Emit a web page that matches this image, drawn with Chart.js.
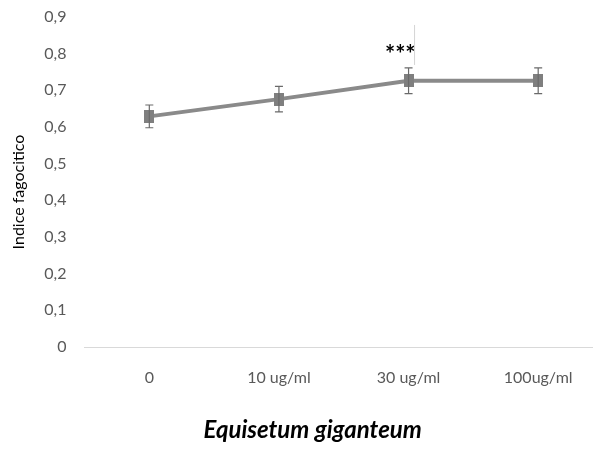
<!DOCTYPE html>
<html><head><meta charset="utf-8">
<script src="https://cdn.jsdelivr.net/npm/chart.js@4/dist/chart.umd.min.js"></script>
<style>html,body{margin:0;padding:0;background:#fff;overflow:hidden}#w{width:604px;height:449px;position:relative}canvas{display:block}</style>
</head><body>
<div id="w"><canvas id="c" width="604" height="449" style="width:604px;height:449px"></canvas></div>
<script>
const categories = ['0', '10 ug/ml', '30 ug/ml', '100ug/ml'];
const values = [0.629, 0.676, 0.726, 0.726];
const errors = [0.031, 0.035, 0.035, 0.035];
const yTickLabels = ['0', '0,1', '0,2', '0,3', '0,4', '0,5', '0,6', '0,7', '0,8', '0,9'];
const annotations = ['', '', '***', ''];
const xTitle = 'Equisetum giganteum';
const yTitle = 'Indice fagocitico';

const marker = document.createElement('canvas');
marker.width = 10; marker.height = 13;
const mctx = marker.getContext('2d');
mctx.fillStyle = '#7f7f7f';
mctx.fillRect(0, 0, 10, 13);

const extras = {
  id: 'extras',
  afterDatasetsDraw(chart) {
    const ctx = chart.ctx;
    const x = chart.scales.x, y = chart.scales.y;
    const ca = chart.chartArea;
    ctx.save();
    ctx.strokeStyle = '#6a6a6a';
    ctx.lineWidth = 1.2;
    values.forEach((v, i) => {
      const px = x.getPixelForValue(i);
      const top = y.getPixelForValue(v + errors[i]);
      const bot = y.getPixelForValue(v - errors[i]);
      ctx.beginPath();
      ctx.moveTo(px, top); ctx.lineTo(px, bot);
      ctx.moveTo(px - 4, top); ctx.lineTo(px + 4, top);
      ctx.moveTo(px - 4, bot); ctx.lineTo(px + 4, bot);
      ctx.stroke();
    });
    ctx.fillStyle = '#000';
    ctx.font = 'bold 24px Lato';
    ctx.textAlign = 'right';
    ctx.textBaseline = 'middle';
    annotations.forEach((t, i) => {
      if (!t) return;
      const px = x.getPixelForValue(i);
      const py = y.getPixelForValue(values[i] + errors[i]);
      ctx.fillText(t, px + 7, py - 13);
      ctx.strokeStyle = '#d4d4d4';
      ctx.lineWidth = 1;
      ctx.beginPath();
      ctx.moveTo(px + 6, py - 43);
      ctx.lineTo(px + 6, py - 3);
      ctx.stroke();
    });
    ctx.fillStyle = '#000';
    ctx.textAlign = 'center';
    ctx.textBaseline = 'middle';
    ctx.font = 'italic bold 24px Lato';
    ctx.fillText(xTitle, ca.left + (ca.right - ca.left) * 0.44, ca.bottom + 83);
    ctx.translate(19, (ca.top + ca.bottom) / 2 + 10);
    ctx.rotate(-Math.PI / 2);
    ctx.font = '16px Lato';
    ctx.fillText(yTitle, 0, 0);
    ctx.restore();
  }
};

new Chart(document.getElementById('c'), {
  type: 'line',
  data: {
    labels: categories,
    datasets: [{
      data: values,
      borderColor: '#8a8a8a',
      borderWidth: 4,
      pointStyle: marker,
      pointRadius: 6,
      tension: 0,
      fill: false
    }]
  },
  options: {
    responsive: false,
    animation: false,
    devicePixelRatio: 1,
    layout: { autoPadding: false, padding: { top: 17, right: 1, bottom: 0, left: 0 } },
    plugins: { legend: { display: false }, tooltip: { enabled: false } },
    scales: {
      x: {
        offset: true,
        afterFit(s) { s.height = 102; s.paddingLeft = 0; s.paddingRight = 0; },
        grid: { display: false, drawTicks: false },
        border: { display: true, color: '#d9d9d9', width: 1 },
        ticks: { color: '#595959', font: { family: 'Lato', size: 16 }, padding: 21, maxRotation: 0 }
      },
      y: {
        min: 0, max: 0.9,
        afterFit(s) { s.width = 84.5; s.paddingTop = 0; s.paddingBottom = 0; },
        afterBuildTicks(s) { s.ticks = yTickLabels.map((_, i) => ({ value: i / 10 })); },
        grid: { display: false, drawTicks: false },
        border: { display: false },
        ticks: { color: '#595959', font: { family: 'Lato', size: 16 }, padding: 18,
                 callback: (v, i) => yTickLabels[i] }
      }
    }
  },
  plugins: [extras]
});
</script>
</body></html>
